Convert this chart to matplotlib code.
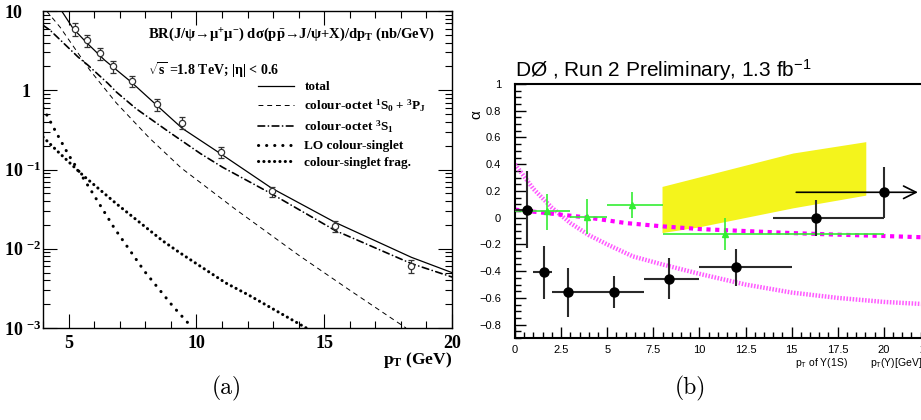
import numpy as np
import matplotlib
matplotlib.use("Agg")
import matplotlib.pyplot as plt
from matplotlib.ticker import MultipleLocator, FuncFormatter, LogLocator, NullFormatter

plt.rcParams['mathtext.fontset'] = 'custom'
plt.rcParams['mathtext.rm'] = 'Liberation Serif:bold'
plt.rcParams['mathtext.it'] = 'Liberation Serif:bold'
plt.rcParams['mathtext.bf'] = 'Liberation Serif:bold'
plt.rcParams['mathtext.sf'] = 'Liberation Sans'

SERIF = ['Liberation Serif', 'DejaVu Serif']
SANS = ['Liberation Sans', 'DejaVu Sans']

# ---------------- panel (a): J/psi cross section ----------------
pt_data = [5.25, 5.71, 6.22, 6.72, 7.47, 8.47, 9.45, 10.96, 12.95, 15.44, 18.4]
xs_data = [5.9, 4.3, 2.94, 2.0, 1.3, 0.665, 0.39, 0.164, 0.053, 0.0195, 0.0061]
xs_err = [1.1, 0.75, 0.5, 0.33, 0.21, 0.11, 0.065, 0.026, 0.008, 0.003, 0.0012]

pt_total = [4.73, 5.18, 5.7, 6.41, 7.45, 8.45, 9.45, 10.95, 12.95, 15.43, 18.41, 20.0]
xs_total = [10.0, 6.0, 4.0, 2.4, 1.27, 0.646, 0.33, 0.158, 0.058, 0.0215, 0.0078, 0.0050]

pt_octS = [4.14, 4.66, 5.83, 6.87, 8.16, 9.4, 11.5, 14.0, 16.0, 18.2]
xs_octS = [10.0, 6.3, 1.8, 0.69, 0.25, 0.105, 0.032, 0.0083, 0.003, 0.001]

pt_oct3 = [4.0, 4.27, 5.37, 5.76, 6.54, 6.87, 7.64, 8.1, 8.94, 10.17, 11.02, 12.96, 15.43, 18.41, 20.0]
xs_oct3 = [6.6, 5.75, 2.63, 2.07, 1.22, 0.95, 0.586, 0.46, 0.296, 0.158, 0.107, 0.049, 0.017, 0.0065, 0.0044]

pt_lo = [4.0, 4.5, 4.99, 5.9, 6.8, 7.97, 9.07, 9.85]
xs_lo = [0.6, 0.3, 0.155, 0.053, 0.018, 0.0052, 0.0019, 0.001]

pt_frag = [4.0, 4.6, 5.57, 6.87, 8.68, 9.33, 11.15, 12.05, 14.3]
xs_frag = [0.257, 0.166, 0.084, 0.037, 0.0126, 0.009, 0.0037, 0.0026, 0.001]

# ---------------- panel (b): Upsilon polarisation ----------------
blk_x = [0.65, 1.55, 2.9, 5.35, 8.35, 12.0, 16.3]
blk_y = [0.06, -0.41, -0.555, -0.555, -0.455, -0.37, 0.0]
blk_xlo = [0.0, 1.0, 2.0, 5.0, 7.0, 10.0, 14.0]
blk_xhi = [1.0, 2.0, 5.0, 7.0, 10.0, 15.0, 20.0]
blk_eup = [0.29, 0.2, 0.18, 0.12, 0.15, 0.136, 0.134]
blk_edn = [0.29, 0.2, 0.185, 0.12, 0.15, 0.14, 0.14]

last_x, last_y = 20.0, 0.19
last_eup, last_edn = 0.19, 0.19
last_xlo, last_xhi = 15.1, 22.0

grn_x = [1.72, 3.88, 6.32, 11.38]
grn_y = [0.047, 0.002, 0.097, -0.12]
grn_xlo = [0.0, 3.0, 5.0, 8.0]
grn_xhi = [3.0, 5.0, 8.0, 20.0]
grn_eup = [0.13, 0.14, 0.095, 0.12]
grn_edn = [0.137, 0.122, 0.097, 0.12]

band_top_x = [8.0, 15.1, 19.05]
band_top_y = [0.23, 0.48, 0.565]
band_bot_x = [19.05, 15.1, 9.9, 8.0]
band_bot_y = [0.165, 0.07, -0.075, -0.115]

magA_x = [0, 1, 2, 3, 4, 5, 6.4, 8, 10, 12.5, 15, 17.5, 20, 22, 25]
magA_y = [0.40, 0.215, 0.075, -0.04, -0.13, -0.20, -0.29, -0.35, -0.42, -0.50, -0.56, -0.60, -0.63, -0.645, -0.66]
magB_x = [0, 2, 4, 6, 8, 10, 12.5, 15, 17.5, 20, 22, 25]
magB_y = [0.06, 0.03, 0.0, -0.04, -0.065, -0.085, -0.10, -0.115, -0.127, -0.137, -0.146, -0.155]

fig = plt.figure(figsize=(9.21, 4.2), dpi=100)

# ===== left panel =====
axL = fig.add_axes([43/921, 1-328/420, 409/921, 317/420])
axL.set_yscale('log')
axL.plot(pt_total, xs_total, color='black', lw=0.9, label='total')
axL.plot(pt_octS, xs_octS, color='black', lw=0.7, ls=(0, (5, 4)),
         label=r'colour-octet $^{1}$S$_{0}$ + $^{3}$P$_{J}$')
axL.plot(pt_oct3, xs_oct3, color='black', lw=1.2, ls=(0, (4, 2.2, 0.1, 2.2)),
         dash_capstyle='round', label=r'colour-octet $^{3}$S$_{1}$')
axL.plot(pt_lo, xs_lo, color='black', lw=2.2, ls=(0, (0.05, 2.6)),
         dash_capstyle='round', label='LO colour-singlet')
axL.plot(pt_frag, xs_frag, color='black', lw=2.2, ls=(0, (0.05, 1.7)),
         dash_capstyle='round', label='colour-singlet frag.')
axL.errorbar(pt_data, xs_data, yerr=xs_err, fmt='o', ms=4.5, mfc='white', mec='#333333',
             mew=0.9, ecolor='#333333', elinewidth=0.9, capsize=2.5, capthick=0.9, zorder=5)

axL.set_xlim(4, 20)
axL.set_ylim(1e-3, 10)
axL.set_xticks([5, 10, 15, 20])
axL.set_xticklabels(['5', '10', '15', '20'], family=SERIF, weight='bold', fontsize=13)
axL.xaxis.set_minor_locator(MultipleLocator(1))
axL.set_yticks([1e-3, 1e-2, 1e-1, 1, 10])
axL.set_yticklabels([r'10 $^{-3}$', r'10 $^{-2}$', r'10 $^{-1}$', '    1', '10'],
                    family=SERIF, weight='bold', fontsize=13, ha='left')
axL.yaxis.set_minor_locator(LogLocator(base=10, subs=np.arange(2, 10)))
axL.yaxis.set_minor_formatter(NullFormatter())
axL.tick_params(which='both', direction='in', top=True, right=True, width=0.8)
axL.tick_params(which='major', length=10)
axL.tick_params(which='minor', length=5)
axL.tick_params(axis='y', which='major', pad=28)
axL.tick_params(axis='x', which='major', pad=5)
for s in axL.spines.values():
    s.set_linewidth(1.0)

axL.text(0.257, 0.925, r'BR(J/ψ→μ$^{+}$μ$^{-}$) dσ(p$\bar{\mathrm{p}}$→J/ψ+X)/dp$_{\mathrm{T}}$ (nb/GeV)',
         transform=axL.transAxes, family=SERIF, weight='bold', fontsize=10.5, va='center')
axL.text(0.257, 0.815, r'$\sqrt{\mathrm{s}}$ =1.8 TeV; |η| < 0.6',
         transform=axL.transAxes, family=SERIF, weight='bold', fontsize=10, va='center')
axL.text(1.0, -0.1, r'p$_{\mathrm{T}}$ (GeV)', transform=axL.transAxes, family=SERIF,
         weight='bold', fontsize=12.5, ha='right', va='center')
leg = axL.legend(loc='upper left', bbox_to_anchor=(0.51, 0.80), frameon=False,
                 handlelength=2.7, handletextpad=0.8, labelspacing=0.35, borderpad=0,
                 prop={'family': SERIF, 'weight': 'bold', 'size': 9.5})

fig.text(227/921, 1-388/420, '(a)', family='cmr10', fontsize=17, ha='center', va='center')

# ===== right panel =====
axR = fig.add_axes([515/921, 1-338/420, 461/921, 254/420])
axR.fill(band_top_x + band_bot_x, band_top_y + band_bot_y, color='#f4f41c', lw=0, zorder=1)
axR.plot(magA_x, magA_y, color='#ff5cff', lw=3.2, ls=(0, (0.35, 0.35)), zorder=2)
axR.plot(magB_x, magB_y, color='#ff00ff', lw=3.0, ls=(0, (1.0, 1.1)), zorder=2)

grn_xerr = [np.subtract(grn_x, grn_xlo), np.subtract(grn_xhi, grn_x)]
axR.errorbar(grn_x, grn_y, xerr=grn_xerr, yerr=[grn_edn, grn_eup], fmt='^', ms=4,
             color='#33ee33', ecolor='#33ee33', elinewidth=1.2, capsize=0, zorder=3)

blk_xerr = [np.subtract(blk_x, blk_xlo), np.subtract(blk_xhi, blk_x)]
axR.errorbar(blk_x, blk_y, xerr=blk_xerr, yerr=[blk_edn, blk_eup], fmt='o', ms=6.5,
             color='black', ecolor='#2a2a2a', elinewidth=1.5, capsize=0, zorder=4)
axR.errorbar([last_x], [last_y], yerr=[[last_edn], [last_eup]], fmt='o', ms=6.5,
             color='black', ecolor='#2a2a2a', elinewidth=1.5, capsize=0, zorder=4)
axR.annotate('', xy=(last_xhi, last_y), xytext=(last_xlo, last_y),
             arrowprops=dict(arrowstyle='->,head_length=0.9,head_width=0.45', color='black', lw=1.2),
             zorder=4)

axR.set_xlim(0, 25)
axR.set_ylim(-0.9, 1.0)
axR.set_xticks(np.arange(0, 25, 2.5))
axR.set_yticks(np.arange(-0.8, 1.01, 0.2))


def tick_fmt(v, p):
    v = round(v, 2) + 0.0
    if abs(v) < 1e-9:
        return '0'
    return ('%g' % v).replace('-', '\u2212')


fmt = FuncFormatter(tick_fmt)
axR.xaxis.set_major_formatter(fmt)
axR.yaxis.set_major_formatter(fmt)
axR.xaxis.set_minor_locator(MultipleLocator(0.5))
axR.yaxis.set_minor_locator(MultipleLocator(0.05))
axR.tick_params(which='both', direction='in', width=1.0, labelsize=8)
axR.tick_params(which='major', length=8)
axR.tick_params(which='minor', length=4)
axR.tick_params(axis='y', which='major', pad=10)
axR.tick_params(axis='x', which='major', pad=5)
for lab in axR.get_xticklabels() + axR.get_yticklabels():
    lab.set_family(SANS)
for s in axR.spines.values():
    s.set_linewidth(1.5)

axR.text(0.0, 1.03, r'DØ , Run 2 Preliminary, 1.3 fb$^{\mathsf{-1}}$', transform=axR.transAxes,
         family=SANS, fontsize=15, va='baseline', ha='left')
axR.text(-0.083, 0.88, 'α', transform=axR.transAxes, family=SANS, fontsize=11,
         rotation=90, ha='center', va='center')
fig.text(795/921, 1-363/420, r'p$_{\mathsf{T}}$ of Υ(1S)', family=SANS, fontsize=7.5, va='center')
fig.text(870/921, 1-363/420, r'p$_{\mathsf{T}}$(Υ)[GeV]', family=SANS, fontsize=7.5, va='center')

fig.text(690/921, 1-388/420, '(b)', family='cmr10', fontsize=17, ha='center', va='center')

fig.savefig('out.png', dpi=100)
